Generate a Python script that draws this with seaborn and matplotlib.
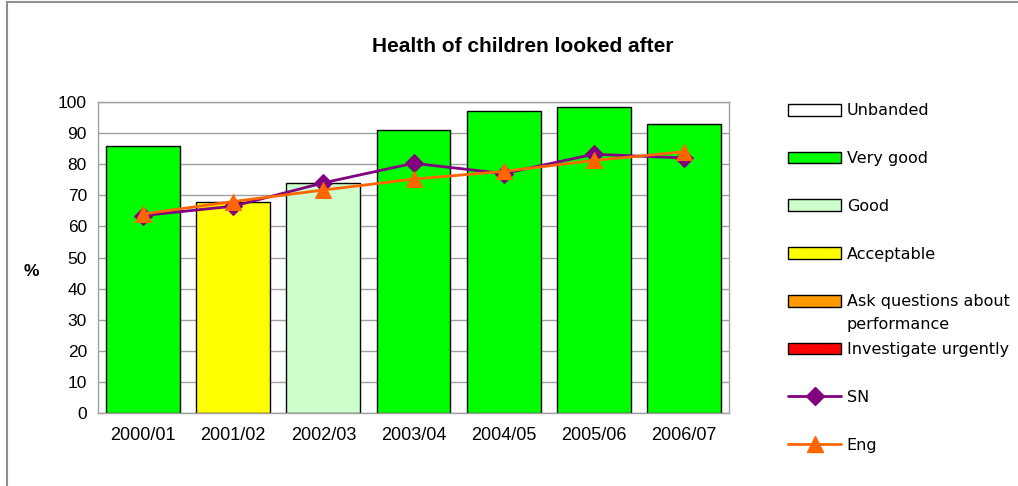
import numpy as np
import pandas as pd
import seaborn as sns
import matplotlib.pyplot as plt
from matplotlib.patches import Patch, Rectangle
from matplotlib.lines import Line2D

# Data
years = ["2000/01", "2001/02", "2002/03", "2003/04", "2004/05", "2005/06", "2006/07"]
values = [86, 68, 74, 91, 97, 98.5, 93]
bands = ["Very good", "Acceptable", "Good", "Very good", "Very good", "Very good", "Very good"]
sn = [63.5, 66.5, 74, 80.3, 77, 83.2, 82]
eng = [64, 68, 71.7, 75.2, 77.7, 81.2, 84]

band_names = ["Unbanded", "Very good", "Good", "Acceptable",
              "Ask questions about", "Investigate urgently"]
band_colors = ["#FFFFFF", "#00FF00", "#CCFFCC", "#FFFF00", "#FF9900", "#FF0000"]
color_of = dict(zip(band_names, band_colors))

df = pd.DataFrame({"year": years, "value": values, "band": bands, "SN": sn, "Eng": eng})

sns.set_style("white")
plt.rcParams["font.family"] = ["DejaVu Sans"]
plt.rcParams["text.color"] = "black"
plt.rcParams["xtick.color"] = "black"
plt.rcParams["ytick.color"] = "black"

fig = plt.figure(figsize=(10.18, 4.86), dpi=100)
ax = fig.add_axes([98 / 1018, 1 - 413 / 486, (729 - 98) / 1018, (413 - 102) / 486])

sns.barplot(data=df, x="year", y="value", hue="year",
            palette=[color_of[b] for b in bands], legend=False, saturation=1,
            width=0.82, edgecolor="black", linewidth=1, ax=ax, zorder=2)

sns.lineplot(x=np.arange(len(years)), y=df["SN"], color="#800080", marker="D",
             markersize=9, markeredgecolor="#800080", linewidth=2, ax=ax, zorder=3)
sns.lineplot(x=np.arange(len(years)), y=df["Eng"], color="#FF6600", marker="^",
             markersize=11, markeredgecolor="#FF6600", linewidth=2, ax=ax, zorder=4)

ax.set_ylim(0, 100)
ax.set_xlim(-0.5, len(years) - 0.5)
ax.set_yticks(range(0, 101, 10))
ax.yaxis.grid(True, color="#A0A0A0", linewidth=1)
ax.set_axisbelow(True)
for s in ax.spines.values():
    s.set_color("#A0A0A0")
    s.set_linewidth(1)
    s.set_visible(True)

ax.set_xticks(np.arange(len(years)))
ax.set_xticklabels(years, family="Liberation Sans", fontsize=13)
ax.set_xticks(np.arange(-0.5, len(years)), minor=True)
ax.tick_params(axis="x", which="major", length=0, pad=10, labelcolor="black")
ax.tick_params(axis="x", which="minor", length=6, color="#A0A0A0", width=1, direction="out")
ax.tick_params(axis="y", length=5, color="#A0A0A0", width=1, direction="out", pad=3,
               labelcolor="black")
for lab in ax.get_yticklabels():
    lab.set_family("Liberation Sans")
    lab.set_fontsize(12.5)

ax.set_xlabel("")
ax.set_ylabel("")
fig.text(31 / 1018, 1 - 272 / 486, "%", ha="center", va="center",
         family="Liberation Sans", fontsize=12.5, fontweight="bold")

fig.text((369 + 676) / 2 / 1018, 1 - 46 / 486, "Health of children looked after",
         ha="center", va="center", family="Liberation Sans", fontsize=15, fontweight="bold")

handles = [Patch(facecolor=c, edgecolor="black", linewidth=1) for c in band_colors]
handles.append(Line2D([], [], color="#800080", marker="D", markersize=9, linewidth=2))
handles.append(Line2D([], [], color="#FF6600", marker="^", markersize=11, linewidth=2))
labels = band_names + ["SN", "Eng"]
fig.legend(handles, labels, loc="upper left", bbox_to_anchor=(782 / 1018, 1 - 97 / 486),
           frameon=False, fontsize=11.5, labelspacing=2.05, handlelength=3.3,
           handleheight=0.75, handletextpad=0.35, borderaxespad=0)
# second line of the "Ask questions about performance" legend label
fig.text(846 / 1018, 1 - 325 / 486, "performance", ha="left", va="center", fontsize=11.5)

fig.add_artist(Rectangle((7 / 1018, -0.05), 1.2, 1.05 - 2 / 486, transform=fig.transFigure,
                         fill=False, edgecolor="#909090", linewidth=1.5))

fig.savefig("out.png", dpi=100)
